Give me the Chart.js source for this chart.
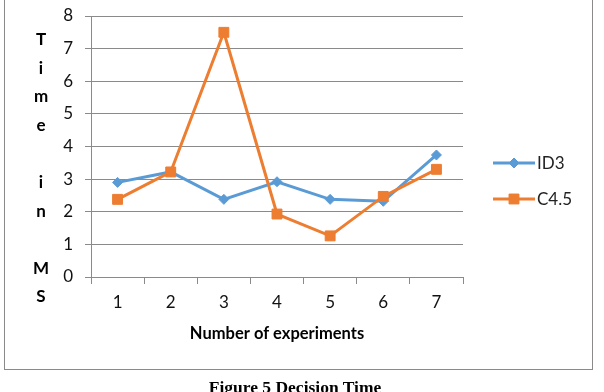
<!DOCTYPE html>
<html>
<head>
<meta charset="utf-8">
<script src="https://cdn.jsdelivr.net/npm/chart.js@4"></script>
<style>
  html, body { margin: 0; padding: 0; background: #fff; }
  #wrap { position: relative; width: 604px; height: 392px; overflow: hidden; }
  #frame { position: absolute; left: 4px; top: -2px; width: 589px; height: 372px; border: 1px solid #8a8a8a; box-sizing: border-box; }
  #canvas { position: absolute; left: 0; top: 0; }
  #ytitle { position: absolute; left: 26px; top: 25px; width: 30px; text-align: center; font: bold 17px Lato, sans-serif; line-height: 28.6px; color: #000; }
  #caption { position: absolute; left: 0; width: 590px; top: 377px; text-align: center; font: bold 17.5px "Liberation Serif", serif; color: #000; white-space: nowrap; }
</style>
</head>
<body>
<div id="wrap">
  <div id="frame"></div>
  <canvas id="canvas" width="604" height="392"></canvas>
  <div id="ytitle"></div>
  <div id="caption">Figure 5 Decision Time</div>
</div>
<script>
const experiments = ['1', '2', '3', '4', '5', '6', '7'];
const id3Times = [2.9, 3.22, 2.38, 2.92, 2.38, 2.32, 3.74];
const c45Times = [2.38, 3.22, 7.5, 1.93, 1.26, 2.47, 3.3];
const yTitleLetters = ['T', 'i', 'm', 'e', '', 'i', 'n', '', 'M', 'S'];

document.getElementById('ytitle').innerHTML =
  yTitleLetters.map((ch) => ch || '&nbsp;').join('<br>');

const tickFont = { family: 'Lato, sans-serif', size: 17 };

// line + marker legend like the office chart
const sideLegend = {
  id: 'sideLegend',
  afterDraw(chart) {
    const ctx = chart.ctx;
    const rows = [163, 199];
    chart.data.datasets.forEach((ds, i) => {
      const y = rows[i];
      ctx.save();
      ctx.strokeStyle = ds.borderColor;
      ctx.lineWidth = ds.borderWidth;
      ctx.beginPath();
      ctx.moveTo(493, y);
      ctx.lineTo(535, y);
      ctx.stroke();
      ctx.fillStyle = ds.backgroundColor;
      ctx.lineWidth = 1;
      Chart.helpers.drawPoint(ctx, { pointStyle: ds.pointStyle, radius: ds.pointRadius, borderWidth: 1 }, 514, y);
      ctx.fillStyle = '#222';
      ctx.font = '17px Lato, sans-serif';
      ctx.textBaseline = 'middle';
      ctx.textAlign = 'left';
      ctx.fillText(ds.label, 537, y + 1);
      ctx.restore();
    });
  },
};

const canvas = document.getElementById('canvas');

new Chart(canvas, {
  type: 'line',
  data: {
    labels: experiments,
    datasets: [
      {
        label: 'ID3',
        data: id3Times,
        borderColor: '#5b9bd5',
        backgroundColor: '#5b9bd5',
        borderWidth: 3,
        pointStyle: 'rectRot',
        pointRadius: 5,
        pointBorderWidth: 1,
        tension: 0,
        order: 1,
      },
      {
        label: 'C4.5',
        data: c45Times,
        borderColor: '#ed7d31',
        backgroundColor: '#ed7d31',
        borderWidth: 3,
        pointStyle: 'rect',
        pointRadius: 7,
        pointBorderWidth: 1,
        tension: 0,
        order: 0,
      },
    ],
  },
  options: {
    responsive: false,
    animation: false,
    layout: { padding: { left: 0, top: 16, right: 141, bottom: 48.4 } },
    plugins: {
      legend: { display: false },
      tooltip: { enabled: false },
    },
    scales: {
      x: {
        offset: true,
        grid: {
          offset: true,
          drawOnChartArea: false,
          drawTicks: true,
          tickLength: 7,
          color: '#8a8a8a',
        },
        border: { color: '#8a8a8a' },
        ticks: { color: '#111', font: tickFont, padding: 8 },
        title: {
          display: true,
          text: 'Number of experiments',
          color: '#000',
          font: { family: 'Lato, sans-serif', size: 16.5, weight: 'bold' },
          padding: 0,
        },
        afterFit(scale) {
          scale.height = 66.6;
          scale.paddingLeft = 0;
          scale.paddingRight = 0;
        },
      },
      y: {
        min: 0,
        max: 8,
        ticks: { stepSize: 1, color: '#111', font: tickFont, padding: 12 },
        grid: { color: '#8a8a8a', tickLength: 6 },
        border: { color: '#8a8a8a' },
        afterFit(scale) {
          scale.width = 91;
          scale.paddingTop = 0;
          scale.paddingBottom = 0;
        },
      },
    },
  },
  plugins: [sideLegend],
});
</script>
</body>
</html>
